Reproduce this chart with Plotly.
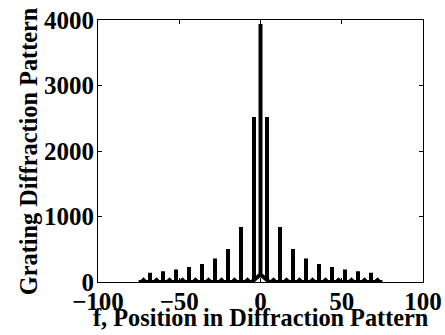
import plotly.graph_objects as go

# Grating diffraction pattern: principal maxima and the weak lobes between them
peak_f = [-68, -60, -52, -44, -36, -28, -20, -12, -4, 0, 4, 12, 20, 28, 36, 44, 52, 60, 68]
peak_h = [140, 165, 190, 230, 275, 360, 505, 840, 2520, 3940, 2520, 840, 505, 360, 275, 230, 190, 165, 140]
# level of the curve at the foot of each maximum (the central hump lifts the inner three)
peak_base = [0, 0, 0, 0, 0, 0, 0, 0, 31, 115, 31, 0, 0, 0, 0, 0, 0, 0, 0]

lobe_f = [-72, -64, -56, -48, -40, -32, -24, -16, -8, 8, 16, 24, 32, 40, 48, 56, 64, 72]
lobe_h = [30, 30, 30, 30, 30, 30, 30, 30, 30, 30, 30, 30, 30, 30, 30, 30, 30, 30]

hump_edge = [-5.5, 5.5]
f_range = [-75, 75]

x_ticks = [-100, -50, 0, 50, 100]
y_ticks = [0, 1000, 2000, 3000, 4000]

x_title = "f, Position in Diffraction Pattern"
y_title = "Grating Diffraction Pattern"

# assemble the traced curve from left to right
events = []
for f, h, b in zip(peak_f, peak_h, peak_base):
    events.append((f, [(f, b), (f, h), (f, b)]))
lobe_w = 1.2
for f, h in zip(lobe_f, lobe_h):
    events.append((f, [(f - lobe_w, 0), (f, h), (f + lobe_w, 0)]))
for f in hump_edge:
    events.append((f, [(f, 0)]))
events.append((f_range[0], [(f_range[0], 0)]))
events.append((f_range[1], [(f_range[1], 0)]))
events.sort(key=lambda e: e[0])

xs, ys = [], []
for _, pts in events:
    for x, y in pts:
        xs.append(x)
        ys.append(y)

fig = go.Figure(go.Scatter(
    x=xs, y=ys, mode="lines",
    line=dict(color="black", width=4),
    hoverinfo="skip", showlegend=False,
))

tick_font = dict(family="Liberation Serif", size=25, color="black", weight="bold")
title_font = dict(family="Liberation Serif", size=24.3, color="black", weight="bold")
axis_common = dict(
    showline=True, linecolor="black", linewidth=1, mirror="allticks",
    ticks="inside", ticklen=4, tickcolor="black", tickwidth=1,
    showgrid=False, zeroline=False, automargin=False,
    tickfont=tick_font,
)

fig.update_xaxes(range=[-100, 100], tickvals=x_ticks, ticklabelstandoff=-3, **axis_common)
fig.update_yaxes(range=[0, 4000], tickvals=y_ticks, ticklabelstandoff=-2, **axis_common)

# axis titles placed as annotations so they can sit tight against the tick labels
fig.add_annotation(
    text=x_title, xref="paper", yref="paper", x=0.5, y=-0.137,
    xanchor="center", yanchor="middle", showarrow=False, font=title_font,
)
fig.add_annotation(
    text=y_title, xref="paper", yref="paper", x=-0.215, y=0.5,
    xanchor="center", yanchor="middle", textangle=-90, showarrow=False, font=title_font,
)

fig.update_layout(
    width=445, height=335,
    margin=dict(l=98, r=22, t=20, b=53),
    paper_bgcolor="white", plot_bgcolor="white",
)

fig.write_html("out.html")
